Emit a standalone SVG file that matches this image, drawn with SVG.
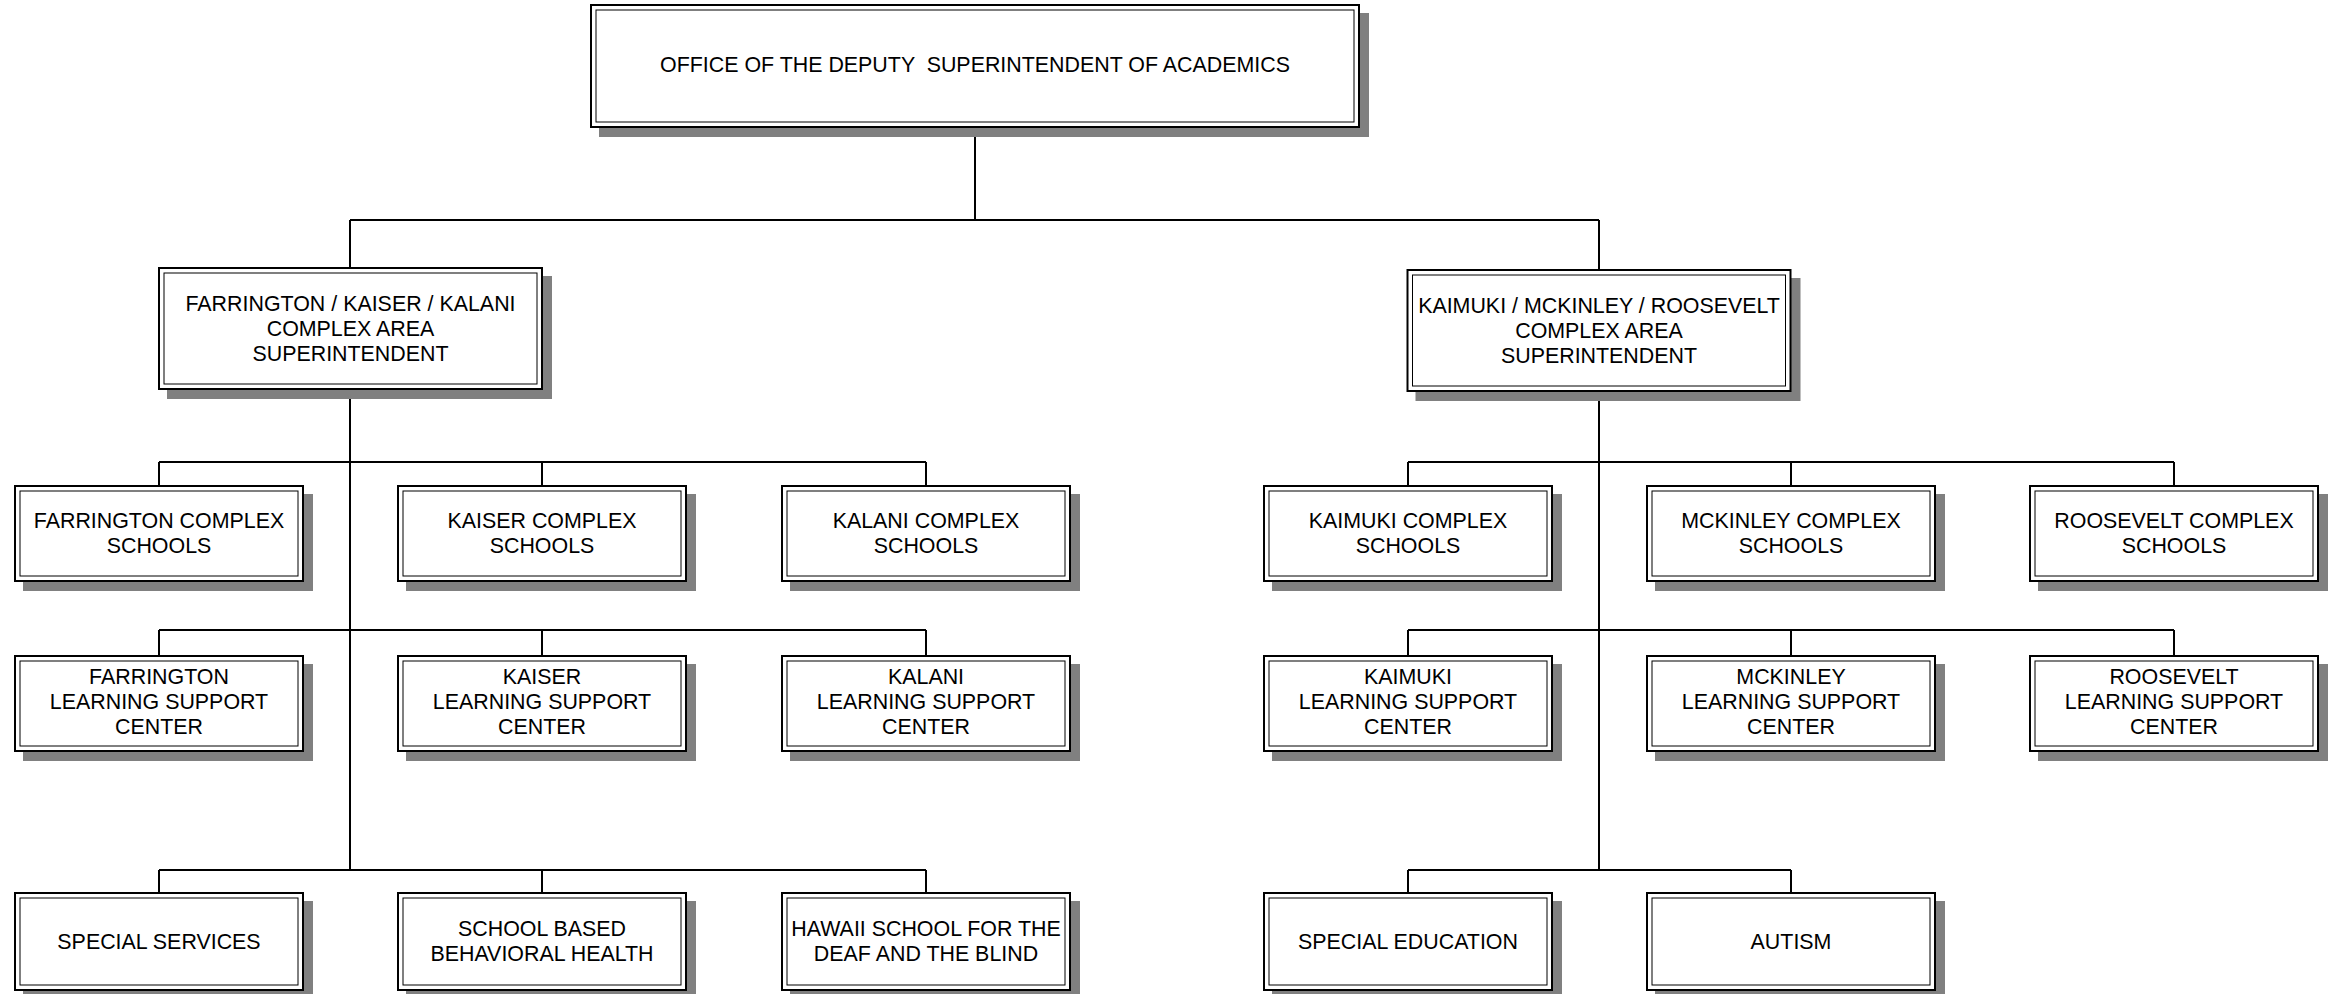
<svg xmlns="http://www.w3.org/2000/svg" width="2336" height="994" viewBox="0 0 2336 994">
<style>
.sh{fill:#808080}
.o{fill:#fff;stroke:#000;stroke-width:2}
.i{fill:none;stroke:#000;stroke-width:1}
.t{font-family:"Liberation Sans",Arial,sans-serif;font-size:21.4px;fill:#000;text-anchor:middle}
.c{fill:none;stroke:#000;stroke-width:2}
</style>
<rect width="2336" height="994" fill="#fff"/>
<g id="connectors" class="c">
<path d="M975 127V220M350 220H1599M350 220V268M1599 220V270"/>
<path d="M350 389V870M159 462H926M159 462V486M542 462V486M926 462V486M159 630H926M159 630V656M542 630V656M926 630V656M159 870H926M159 870V893M542 870V893M926 870V893"/>
<path d="M1599 391V870M1408 462H2174M1408 462V486M1791 462V486M2174 462V486M1408 630H2174M1408 630V656M1791 630V656M2174 630V656M1408 870H1791M1408 870V893M1791 870V893"/>
</g>
<g id="deputy">
<rect class="sh" x="599" y="13" width="770" height="124"/>
<rect class="o" x="591" y="5" width="768" height="122"/>
<rect class="i" x="596" y="10" width="758" height="112"/>
<text class="t" x="975" y="72" style="white-space:pre">OFFICE OF THE DEPUTY  SUPERINTENDENT OF ACADEMICS</text>
</g>
<g id="fkk-cas">
<rect class="sh" x="167" y="276" width="385" height="123"/>
<rect class="o" x="159" y="268" width="383" height="121"/>
<rect class="i" x="164" y="273" width="373" height="111"/>
<text class="t" x="350.5" y="311">FARRINGTON / KAISER / KALANI</text>
<text class="t" x="350.5" y="336">COMPLEX AREA</text>
<text class="t" x="350.5" y="361">SUPERINTENDENT</text>
</g>
<g id="kmr-cas">
<rect class="sh" x="1415.5" y="278" width="385" height="123"/>
<rect class="o" x="1407.5" y="270" width="383" height="121"/>
<rect class="i" x="1412.5" y="275" width="373" height="111"/>
<text class="t" x="1599" y="313">KAIMUKI / MCKINLEY / ROOSEVELT</text>
<text class="t" x="1599" y="338">COMPLEX AREA</text>
<text class="t" x="1599" y="363">SUPERINTENDENT</text>
</g>
<g id="farrington-schools">
<rect class="sh" x="23" y="494" width="290" height="97"/>
<rect class="o" x="15" y="486" width="288" height="95"/>
<rect class="i" x="20" y="491" width="278" height="85"/>
<text class="t" x="159" y="528">FARRINGTON COMPLEX</text>
<text class="t" x="159" y="553">SCHOOLS</text>
</g>
<g id="kaiser-schools">
<rect class="sh" x="406" y="494" width="290" height="97"/>
<rect class="o" x="398" y="486" width="288" height="95"/>
<rect class="i" x="403" y="491" width="278" height="85"/>
<text class="t" x="542" y="528">KAISER COMPLEX</text>
<text class="t" x="542" y="553">SCHOOLS</text>
</g>
<g id="kalani-schools">
<rect class="sh" x="790" y="494" width="290" height="97"/>
<rect class="o" x="782" y="486" width="288" height="95"/>
<rect class="i" x="787" y="491" width="278" height="85"/>
<text class="t" x="926" y="528">KALANI COMPLEX</text>
<text class="t" x="926" y="553">SCHOOLS</text>
</g>
<g id="kaimuki-schools">
<rect class="sh" x="1272" y="494" width="290" height="97"/>
<rect class="o" x="1264" y="486" width="288" height="95"/>
<rect class="i" x="1269" y="491" width="278" height="85"/>
<text class="t" x="1408" y="528">KAIMUKI COMPLEX</text>
<text class="t" x="1408" y="553">SCHOOLS</text>
</g>
<g id="mckinley-schools">
<rect class="sh" x="1655" y="494" width="290" height="97"/>
<rect class="o" x="1647" y="486" width="288" height="95"/>
<rect class="i" x="1652" y="491" width="278" height="85"/>
<text class="t" x="1791" y="528">MCKINLEY COMPLEX</text>
<text class="t" x="1791" y="553">SCHOOLS</text>
</g>
<g id="roosevelt-schools">
<rect class="sh" x="2038" y="494" width="290" height="97"/>
<rect class="o" x="2030" y="486" width="288" height="95"/>
<rect class="i" x="2035" y="491" width="278" height="85"/>
<text class="t" x="2174" y="528">ROOSEVELT COMPLEX</text>
<text class="t" x="2174" y="553">SCHOOLS</text>
</g>
<g id="farrington-lsc">
<rect class="sh" x="23" y="664" width="290" height="97"/>
<rect class="o" x="15" y="656" width="288" height="95"/>
<rect class="i" x="20" y="661" width="278" height="85"/>
<text class="t" x="159" y="683.5">FARRINGTON</text>
<text class="t" x="159" y="708.5">LEARNING SUPPORT</text>
<text class="t" x="159" y="733.5">CENTER</text>
</g>
<g id="kaiser-lsc">
<rect class="sh" x="406" y="664" width="290" height="97"/>
<rect class="o" x="398" y="656" width="288" height="95"/>
<rect class="i" x="403" y="661" width="278" height="85"/>
<text class="t" x="542" y="683.5">KAISER</text>
<text class="t" x="542" y="708.5">LEARNING SUPPORT</text>
<text class="t" x="542" y="733.5">CENTER</text>
</g>
<g id="kalani-lsc">
<rect class="sh" x="790" y="664" width="290" height="97"/>
<rect class="o" x="782" y="656" width="288" height="95"/>
<rect class="i" x="787" y="661" width="278" height="85"/>
<text class="t" x="926" y="683.5">KALANI</text>
<text class="t" x="926" y="708.5">LEARNING SUPPORT</text>
<text class="t" x="926" y="733.5">CENTER</text>
</g>
<g id="kaimuki-lsc">
<rect class="sh" x="1272" y="664" width="290" height="97"/>
<rect class="o" x="1264" y="656" width="288" height="95"/>
<rect class="i" x="1269" y="661" width="278" height="85"/>
<text class="t" x="1408" y="683.5">KAIMUKI</text>
<text class="t" x="1408" y="708.5">LEARNING SUPPORT</text>
<text class="t" x="1408" y="733.5">CENTER</text>
</g>
<g id="mckinley-lsc">
<rect class="sh" x="1655" y="664" width="290" height="97"/>
<rect class="o" x="1647" y="656" width="288" height="95"/>
<rect class="i" x="1652" y="661" width="278" height="85"/>
<text class="t" x="1791" y="683.5">MCKINLEY</text>
<text class="t" x="1791" y="708.5">LEARNING SUPPORT</text>
<text class="t" x="1791" y="733.5">CENTER</text>
</g>
<g id="roosevelt-lsc">
<rect class="sh" x="2038" y="664" width="290" height="97"/>
<rect class="o" x="2030" y="656" width="288" height="95"/>
<rect class="i" x="2035" y="661" width="278" height="85"/>
<text class="t" x="2174" y="683.5">ROOSEVELT</text>
<text class="t" x="2174" y="708.5">LEARNING SUPPORT</text>
<text class="t" x="2174" y="733.5">CENTER</text>
</g>
<g id="special-services">
<rect class="sh" x="23" y="901" width="290" height="99"/>
<rect class="o" x="15" y="893" width="288" height="97"/>
<rect class="i" x="20" y="898" width="278" height="87"/>
<text class="t" x="159" y="949">SPECIAL SERVICES</text>
</g>
<g id="sbbh">
<rect class="sh" x="406" y="901" width="290" height="99"/>
<rect class="o" x="398" y="893" width="288" height="97"/>
<rect class="i" x="403" y="898" width="278" height="87"/>
<text class="t" x="542" y="936">SCHOOL BASED</text>
<text class="t" x="542" y="961">BEHAVIORAL HEALTH</text>
</g>
<g id="hsdb">
<rect class="sh" x="790" y="901" width="290" height="99"/>
<rect class="o" x="782" y="893" width="288" height="97"/>
<rect class="i" x="787" y="898" width="278" height="87"/>
<text class="t" x="926" y="936">HAWAII SCHOOL FOR THE</text>
<text class="t" x="926" y="961">DEAF AND THE BLIND</text>
</g>
<g id="special-education">
<rect class="sh" x="1272" y="901" width="290" height="99"/>
<rect class="o" x="1264" y="893" width="288" height="97"/>
<rect class="i" x="1269" y="898" width="278" height="87"/>
<text class="t" x="1408" y="949">SPECIAL EDUCATION</text>
</g>
<g id="autism">
<rect class="sh" x="1655" y="901" width="290" height="99"/>
<rect class="o" x="1647" y="893" width="288" height="97"/>
<rect class="i" x="1652" y="898" width="278" height="87"/>
<text class="t" x="1791" y="949">AUTISM</text>
</g>
</svg>
